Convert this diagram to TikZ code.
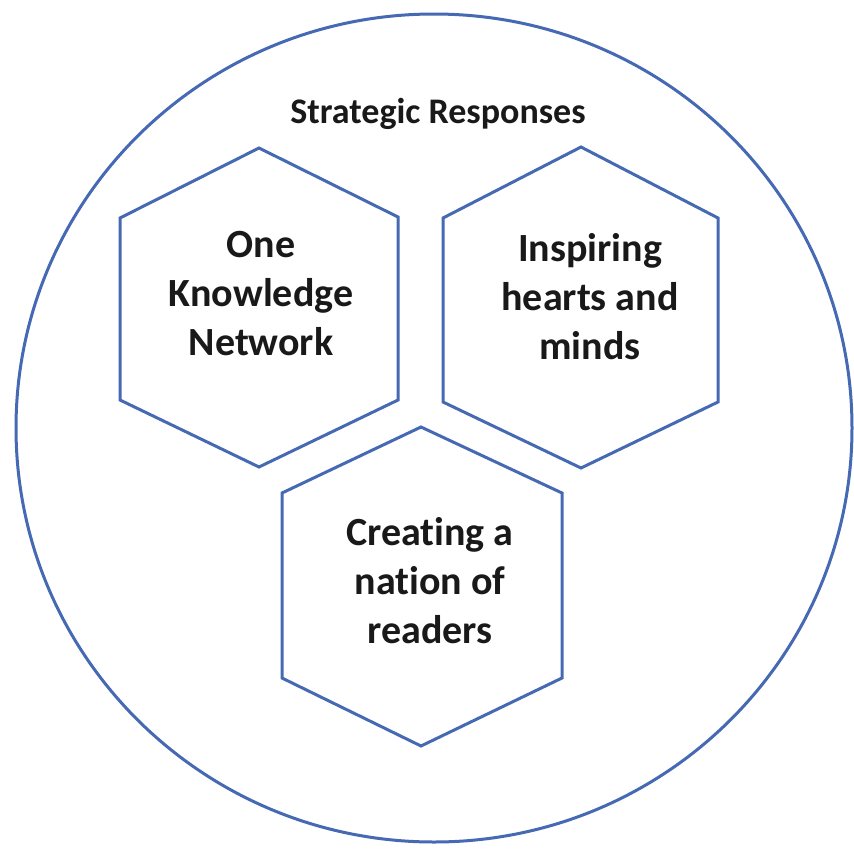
\documentclass[tikz,border=0pt]{standalone}
\usepackage{fontspec}
\setmainfont{Carlito}[Ligatures={NoCommon}]
\definecolor{ringblue}{RGB}{70,105,180}
\definecolor{inktext}{RGB}{25,25,25}
\tikzset{
  hexline/.style={draw=ringblue, line width=3pt, line join=miter, fill=white},
  ringline/.style={draw=ringblue, line width=3pt},
  hextext/.style={align=center, font=\fontsize{40}{49}\selectfont\bfseries, text=inktext, inner sep=0pt},
  titletext/.style={font=\fontsize{36}{44}\selectfont\bfseries, text=inktext, inner sep=0pt}
}
\begin{document}
\begin{tikzpicture}[x=1pt,y=-1pt]
\useasboundingbox (0,0) rectangle (854,849);
\fill[white] (0,0) rectangle (854,849);
% outer circle
\draw[ringline] (434,428) ellipse [x radius=418, y radius=414];
% title
\node[titletext] (title) at (438,114) {Strategic Responses};
% hexagons
\draw[hexline] (259,148) -- (398,217) -- (398,400) -- (259,467) -- (120,400) -- (120,218) -- cycle;
\draw[hexline] (581,147) -- (718,218) -- (718,402) -- (581,468) -- (443,402) -- (443,218) -- cycle;
\draw[hexline] (421,427) -- (562,493) -- (562,678) -- (421,746) -- (282,678) -- (282,493) -- cycle;
% labels
\node[hextext] (one) at (261,294) {One\\Knowledge\\Network};
\node[hextext] (insp) at (590,297) {Inspiring\\hearts and\\minds};
\node[hextext] (nation) at (430,581) {Creat\kern0pt ing a\\nat\kern0pt ion of\\readers};
\end{tikzpicture}
\end{document}
